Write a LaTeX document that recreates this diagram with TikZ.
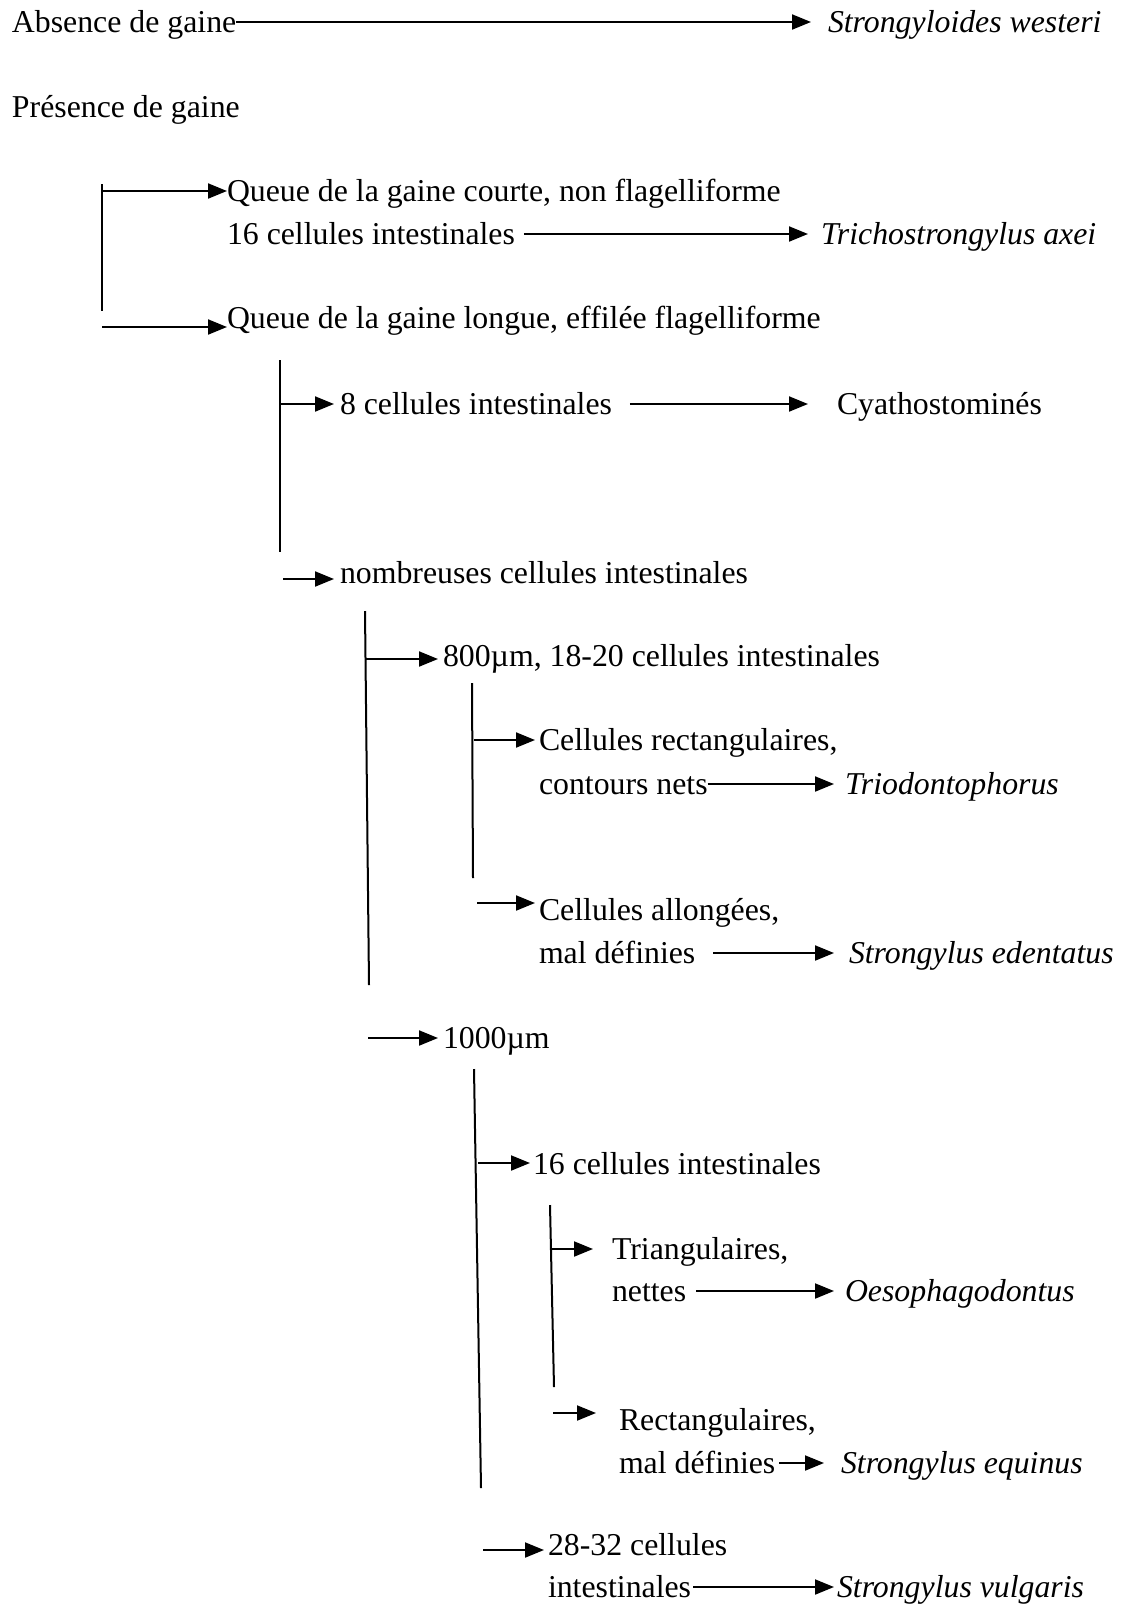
\documentclass[tikz,border=0pt]{standalone}
\usepackage{fontspec}
\setmainfont{Liberation Serif}
\usetikzlibrary{arrows.meta}
\begin{document}
\begin{tikzpicture}[x=1pt,y=-1pt,
  txt/.style={anchor=west,inner sep=0pt,outer sep=0pt,font=\fontsize{31.8}{38}\selectfont,text height=24pt,text depth=4pt},
  itx/.style={txt,font=\fontsize{31.8}{38}\selectfont\itshape},
  arr/.style={line width=2pt,-{Triangle[length=19pt,width=15pt]}},
  vl/.style={line width=2pt}]
\useasboundingbox (0,0) rectangle (1123,1604);

% top level
\node[txt] (A) at (12,22) {Absence de gaine};
\node[itx] (SW) at (828,22) {Strongyloides westeri};
\draw[arr,shorten >=17pt] (A.east) -- (SW.west);
\node[txt] (P) at (12,107) {Présence de gaine};

% bracket 1
\coordinate (v1t) at (102,184);
\coordinate (v1b) at (102,311);
\draw[vl] (v1t) -- (v1b);
\node[txt] (Q1) at (227,191) {Queue de la gaine courte, non flagelliforme};
\node[txt] (T16) at (227,234) {16 cellules intestinales};
\node[itx] (TA) at (821,234) {Trichostrongylus axei};
\node[txt] (Q2) at (227,318) {Queue de la gaine longue, effilée flagelliforme};
\draw[arr] (v1t |- Q1.west) -- (Q1.west);
\coordinate (b1) at (102,327);
\draw[arr] (b1) -- (b1 -| Q2.west);
\draw[arr,shorten <=9pt,shorten >=13pt] (T16.east) -- (TA.west);

% bracket 2
\coordinate (v2t) at (280,360);
\coordinate (v2b) at (280,552);
\draw[vl] (v2t) -- (v2b);
\node[txt] (C8) at (340,404) {8 cellules intestinales};
\node[txt] (CY) at (837,404) {Cyathostominés};
\draw[arr,shorten >=6pt] (v2t |- C8.west) -- (C8.west);
\draw[arr,shorten <=18pt,shorten >=29pt] (C8.east) -- (CY.west);
\node[txt] (NB) at (340,573) {nombreuses cellules intestinales};
\coordinate (b2) at (283,579);
\draw[arr,shorten >=6pt] (b2) -- (b2 -| NB.west);

% bracket 3
\coordinate (v3t) at (365,611);
\coordinate (v3b) at (369,985);
\draw[vl] (v3t) -- (v3b);
\node[txt] (M800) at (443,656) {800µm, 18-20 cellules intestinales};
\coordinate (b3a) at (365,659);
\draw[arr,shorten >=5pt] (b3a) -- (b3a -| M800.west);
\node[txt] (M1000) at (443,1038) {1000µm};
\coordinate (b3b) at (368,1038);
\draw[arr,shorten >=5pt] (b3b) -- (b3b -| M1000.west);

% bracket 4
\coordinate (v4t) at (472,683);
\coordinate (v4b) at (473,878);
\draw[vl] (v4t) -- (v4b);
\node[txt] (CR1) at (539,740) {Cellules rectangulaires,};
\node[txt] (CN) at (539,784) {contours nets};
\node[itx] (TR) at (845,784) {Triodontophorus};
\coordinate (b4a) at (474,740);
\draw[arr,shorten >=4pt] (b4a) -- (b4a -| CR1.west);
\draw[arr,shorten >=11pt] (CN.east) -- (TR.west);
\node[txt] (CA) at (539,910) {Cellules allongées,};
\node[txt] (MD1) at (539,953) {mal définies};
\node[itx] (SE) at (849,953) {Strongylus edentatus};
\coordinate (b4b) at (477,903);
\draw[arr,shorten >=4pt] (b4b) -- (b4b -| CA.west);
\draw[arr,shorten <=18pt,shorten >=15pt] (MD1.east) -- (SE.west);

% bracket 5
\coordinate (v5t) at (474,1069);
\coordinate (v5b) at (481,1488);
\draw[vl] (v5t) -- (v5b);
\node[txt] (C16) at (533,1164) {16 cellules intestinales};
\coordinate (b5a) at (478,1163);
\draw[arr,shorten >=3pt] (b5a) -- (b5a -| C16.west);
\node[txt] (C28) at (548,1545) {28-32 cellules};
\node[txt] (IN) at (548,1587) {intestinales};
\node[itx] (SV) at (837,1587) {Strongylus vulgaris};
\coordinate (b5b) at (483,1550);
\draw[arr,shorten >=4pt] (b5b) -- (b5b -| C28.west);
\draw[arr,shorten <=2pt,shorten >=3pt] (IN.east) -- (SV.west);

% bracket 6
\coordinate (v6t) at (550,1205);
\coordinate (v6b) at (554,1387);
\draw[vl] (v6t) -- (v6b);
\node[txt] (TRI) at (612,1249) {Triangulaires,};
\node[txt] (NE) at (612,1291) {nettes};
\node[itx] (OE) at (845,1291) {Oesophagodontus};
\coordinate (b6a) at (552,1249);
\draw[arr,shorten >=19pt] (b6a) -- (b6a -| TRI.west);
\draw[arr,shorten <=10pt,shorten >=11pt] (NE.east) -- (OE.west);
\node[txt] (RE) at (619,1420) {Rectangulaires,};
\node[txt] (MD2) at (619,1463) {mal définies};
\node[itx] (SQ) at (841,1463) {Strongylus equinus};
\coordinate (b6b) at (553,1413);
\draw[arr,shorten >=23pt] (b6b) -- (b6b -| RE.west);
\draw[arr,shorten <=4pt,shorten >=17pt] (MD2.east) -- (SQ.west);
\end{tikzpicture}
\end{document}
